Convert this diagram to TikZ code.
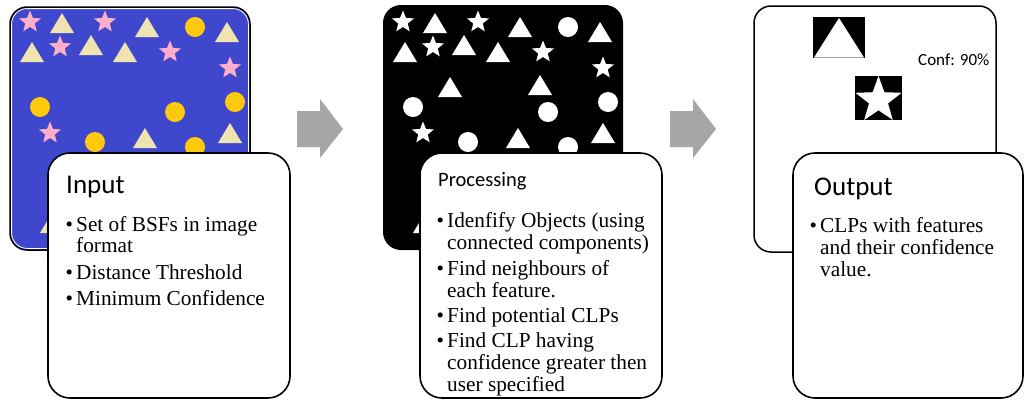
\documentclass[tikz,border=0pt]{standalone}
\usepackage{fontspec}
\setmainfont{Liberation Serif}
\newfontfamily\calib{Carlito}
\definecolor{pblue}{HTML}{3F48CC}
\definecolor{pgold}{HTML}{FFC90E}
\definecolor{prose}{HTML}{FFAEC9}
\definecolor{pbeige}{HTML}{EFE4B0}
\definecolor{agray}{HTML}{A6A6A6}
\newcommand\bulmark{\makebox[0pt][r]{\textbullet\hspace{3.2pt}}}
\newcommand\bsfset[3]{%
  \foreach \x/\y in {30/22,105/22,60/47,170/52,230/68,50/133}
    \pic[#1] at (\x,\y) {pstar};
  \foreach \x/\y in {62/23,147/27,227/32,32/52,91/45,125/52,145/138,230/133,52/223}
    \pic[#2] at (\x,\y) {ptri};
  \foreach \x/\y in {195/27,40/107,175/112,235/102,95/142,195/147}
    \fill[#3] (\x,\y) circle (10pt);
}
\begin{document}
\begin{tikzpicture}[x=1pt,y=-1pt,
  ptri/.pic={\fill (-12,10) -- (12,10) -- (0,-10) -- cycle;},
  pstar/.pic={\fill (-90:11.5) -- (-54:5) -- (-18:11.5) -- (18:5) -- (54:11.5) -- (90:5) -- (126:11.5) -- (162:5) -- (198:11.5) -- (234:5) -- cycle;},
  txt/.style={anchor=base west, inner sep=0pt, font=\fontsize{21.3}{22}\selectfont},
  ttl/.style={anchor=base west, inner sep=0pt},
  panel/.style={rounded corners=17pt, line width=1.5pt},
  infobox/.style={draw=black, fill=white, line width=1.6pt, rounded corners=22pt},
  barrow/.style={fill=agray, draw=none}]
\useasboundingbox (0,0) rectangle (1024,400);
\fill[white] (0,0) rectangle (1024,400);
% panel 1
\draw[panel, fill=pblue, draw=black] (10,7) rectangle (250,250);
\draw[white, line width=0.8pt, rounded corners=15.5pt] (11.6,8.6) rectangle (248.4,248.4);
\bsfset{prose}{pbeige}{pgold}
% panel 2
\fill[black, rounded corners=18pt] (383,5) rectangle (623,250);
\begin{scope}[xshift=373pt]
  \bsfset{white}{white}{white}
  \pic[white] at (77,87) {ptri};
  \pic[white] at (167,85) {ptri};
\end{scope}
% panel 3
\draw[panel, fill=white, draw=black] (754,6) rectangle (996,252);
\fill[black] (813,17) rectangle (865,58);
\fill[white] (839,18) -- (864,57.5) -- (814,57.5) -- cycle;
\fill[black] (855,76) rectangle (902,120);
\begin{scope}[shift={(878.5,100.3)}]
  \fill[white] (-90:24.3) -- (-54:10) -- (-18:24.3) -- (18:10) -- (54:24.3) -- (90:10) -- (126:24.3) -- (162:10) -- (198:24.3) -- (234:10) -- cycle;
\end{scope}
\node[ttl, font=\calib\fontsize{17}{20}\selectfont] (conf) at (918,65) {Conf: 90\%};
% arrows
\fill[barrow] (297,111) -- (320,111) -- (320,99) -- (343,129) -- (320,158) -- (320,147) -- (297,147) -- cycle;
\fill[barrow] (670,111) -- (693,111) -- (693,99) -- (716,129) -- (693,158) -- (693,147) -- (670,147) -- cycle;
% input box
\draw[infobox] (48,153) rectangle (290,398);
\node[ttl, font=\calib\fontsize{27}{30}\selectfont] (inT) at (66,193) {Input};
\node[txt] (in1) at (76,231) {\bulmark Set of BSFs in image};
\node[txt] (in2) at (76,252) {format};
\node[txt] (in3) at (76,279) {\bulmark Distance Threshold};
\node[txt] (in4) at (76,305) {\bulmark Minimum Confidence};
% processing box
\draw[infobox] (420,153) rectangle (662,398);
\node[ttl, font=\calib\fontsize{20.5}{24}\selectfont] (prT) at (438,186) {Processing};
\node[txt] (pr1) at (447,227) {\bulmark Idenfify Objects (using};
\node[txt] (pr2) at (447,249) {connected components)};
\node[txt] (pr3) at (447,275) {\bulmark Find neighbours of};
\node[txt] (pr4) at (447,297) {each feature.};
\node[txt] (pr5) at (447,322) {\bulmark Find potential CLPs};
\node[txt] (pr6) at (447,347) {\bulmark Find CLP having};
\node[txt] (pr7) at (447,369) {confidence greater then};
\node[txt] (pr8) at (447,391) {user specified};
% output box
\draw[infobox] (793,153) rectangle (1023,398);
\node[ttl, font=\calib\fontsize{27}{30}\selectfont] (ouT) at (814,195) {Output};
\node[txt] (ou1) at (820,232) {\bulmark CLPs with features};
\node[txt] (ou2) at (820,254) {and their confidence};
\node[txt] (ou3) at (820,276) {value.};
\end{tikzpicture}
\end{document}
